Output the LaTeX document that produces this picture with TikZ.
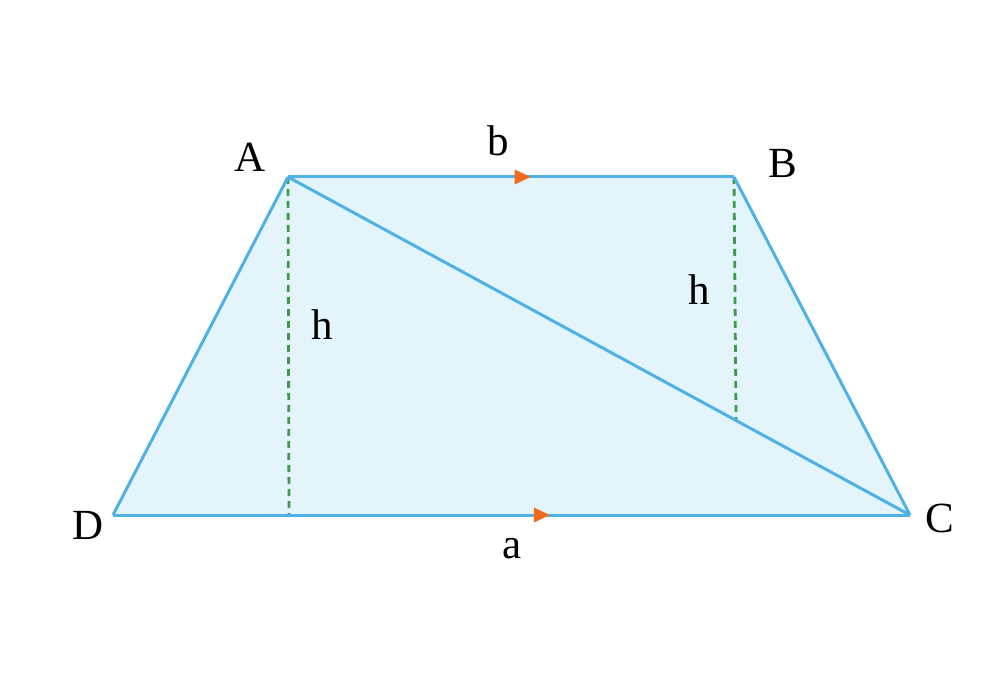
\documentclass[tikz,border=0pt]{standalone}
\usepackage{fontspec}
\setmainfont{Liberation Serif}
\usetikzlibrary{decorations.markings,calc}
\definecolor{edgeblue}{HTML}{4FB1E6}
\definecolor{fillblue}{HTML}{E3F4FB}
\definecolor{hgreen}{HTML}{3E9C4C}
\definecolor{tiporange}{HTML}{F26A1B}
\tikzset{
  side/.style={draw=edgeblue,line width=3pt,line join=round},
  height/.style={draw=hgreen,line width=2.8pt,dash pattern=on 7pt off 5pt},
  lab/.style={font=\fontsize{43}{50}\selectfont,inner sep=0pt},
  midtip/.style={postaction={decorate},decoration={markings,mark=at position #1 with {\fill[tiporange] (8pt,0) -- (-8pt,7.5pt) -- (-8pt,-7.5pt) -- cycle;}}}
}
\begin{document}
\begin{tikzpicture}[x=1pt,y=-1pt]
\useasboundingbox (0,0) rectangle (1000,700);
\fill[white] (0,0) rectangle (1000,700);
\coordinate (A) at (288,177);
\coordinate (B) at (734,177);
\coordinate (C) at (910,515);
\coordinate (D) at (113,515);
\coordinate (HA) at (289,515);
\coordinate (HB) at ($(A)!0.7203!(C)$);
\fill[fillblue] (A) -- (B) -- (C) -- (D) -- cycle;
\draw[height] (A) -- (HA);
\draw[height] (B) -- (HB);
\draw[side] (B) -- (C);
\draw[side] (D) -- (A);
\draw[side] (A) -- (C);
\draw[side,midtip=0.526] (A) -- (B);
\draw[side,midtip=0.538] (D) -- (C);
\node[lab] (lA) at (250,157) {A};
\node[lab] (lB) at (783,163) {B};
\node[lab] (lC) at (940,518) {C};
\node[lab] (lD) at (88,525) {D};
\node[lab] (lb) at (498,141) {b};
\node[lab] (la) at (512,549) {a};
\node[lab] (lh1) at (322,325) {h};
\node[lab] (lh2) at (699,290) {h};
\end{tikzpicture}
\end{document}
